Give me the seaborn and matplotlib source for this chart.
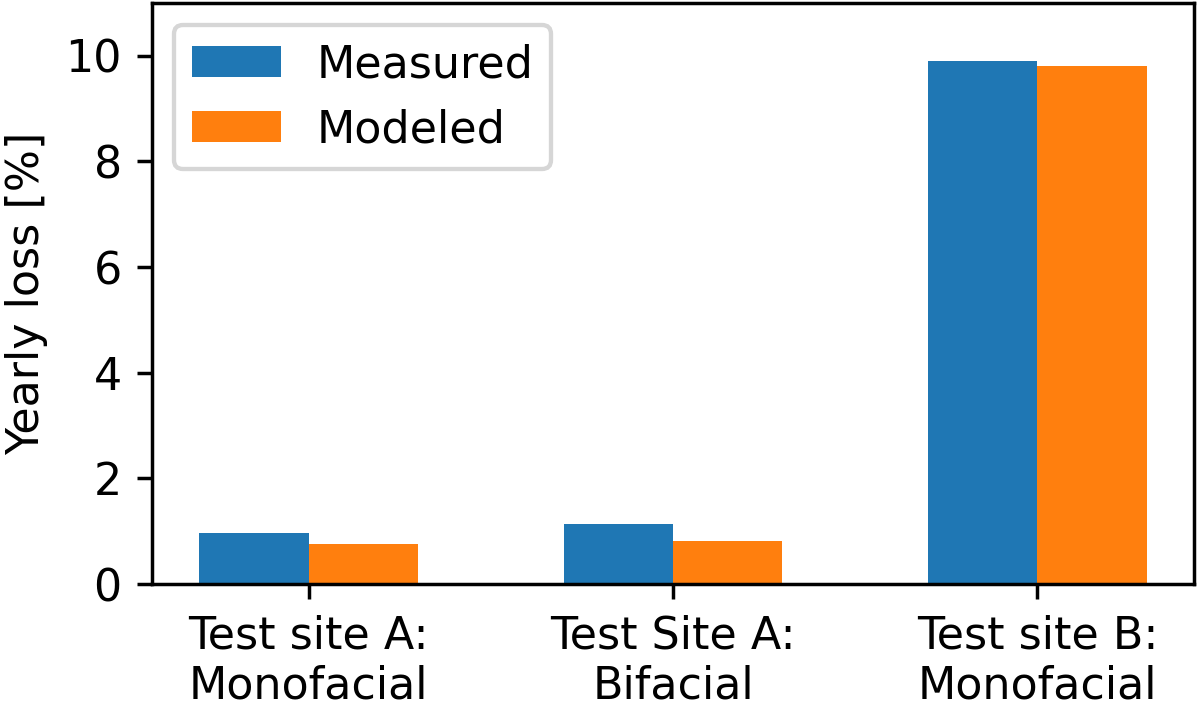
import pandas as pd
import matplotlib
matplotlib.use('Agg')
import matplotlib.pyplot as plt
import seaborn as sns

sites = ['Test site A:\nMonofacial', 'Test Site A:\nBifacial', 'Test site B:\nMonofacial']
measured = [0.97, 1.14, 9.90]
modeled = [0.75, 0.82, 9.80]
series = ['Measured', 'Modeled']
colors = ['#1f77b4', '#ff7f0e']

df = pd.DataFrame({
    'site': sites * 2,
    'loss': measured + modeled,
    'series': [series[0]] * len(sites) + [series[1]] * len(sites),
})

plt.rcParams['font.family'] = ['DejaVu Sans']
plt.rcParams['font.size'] = 10.25

dpi = 312
fig = plt.figure(figsize=(1200 / dpi, 705 / dpi), dpi=dpi)
ax = fig.add_axes([0.1267, 0.1716, 0.8683, 0.8241])

sns.barplot(data=df, x='site', y='loss', hue='series', order=sites, hue_order=series,
            palette=colors, saturation=1, width=0.6, errorbar=None, ax=ax)

ax.set_xlim(-0.43, 2.43)
ax.set_ylim(0, 11)
ax.set_yticks([0, 2, 4, 6, 8, 10])
ax.set_xlabel('')
ax.set_ylabel('Yearly loss [%]')

handles, labels = ax.get_legend_handles_labels()
ax.legend(handles, labels, loc='upper left', title=None)

fig.savefig('out.png', dpi=dpi)
